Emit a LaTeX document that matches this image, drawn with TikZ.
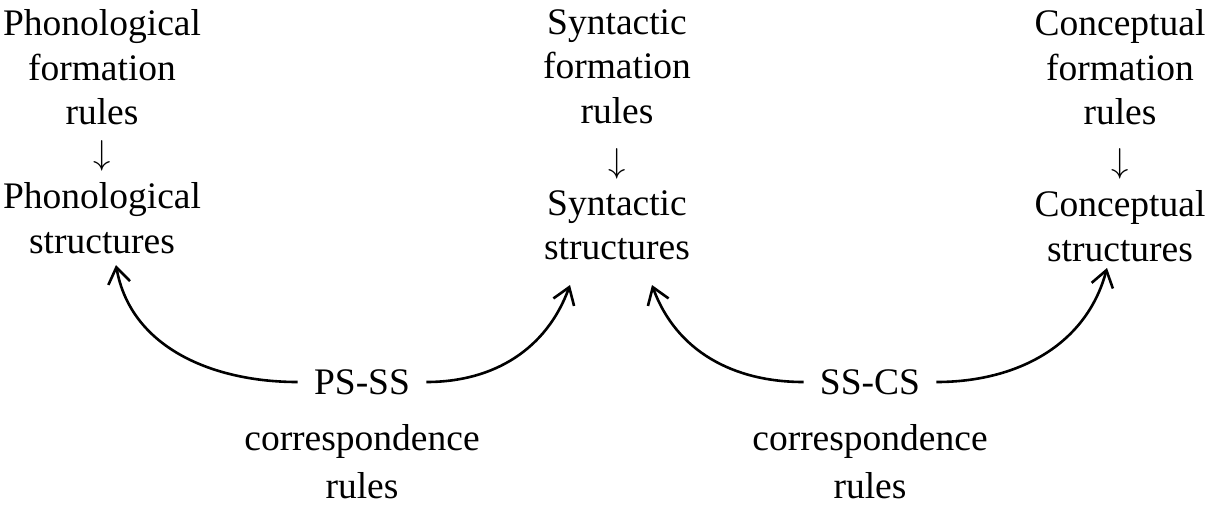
\documentclass[tikz,border=0pt]{standalone}
\usepackage{fontspec}
\setmainfont{Liberation Serif}
\usetikzlibrary{arrows.meta}
\tikzset{lingtext/.style={align=center,inner sep=0pt,font=\fontsize{18.75}{22.3}\selectfont}}
\tikzset{downsign/.style={inner sep=0pt,font=\fontsize{19}{19}\selectfont}}
\tikzset{corrarrow/.style={line width=1.3pt,-{Straight Barb[length=8pt,width=11pt,line width=1.3pt]}}}

\begin{document}
\begin{tikzpicture}[x=0.5pt,y=-0.5pt]
	\useasboundingbox (0,0) rectangle (1214,505);

	% formation rules and structures
	\node[lingtext,anchor=north] (phonrules) at (102,9) {Phonological\\formation\\rules};
	\node[downsign] (phondown) at (102,156) {$\downarrow$};
	\node[lingtext,anchor=north] (phonstr) at (102,182) {Phonological\\structures};

	\node[lingtext,anchor=north] (synrules) at (617,9) {Syntactic\\formation\\rules};
	\node[downsign] (syndown) at (617,164) {$\downarrow$};
	\node[lingtext,anchor=north] (synstr) at (617,190) {Syntactic\\structures};

	\node[lingtext,anchor=north] (concrules) at (1120,9) {Conceptual\\formation\\rules};
	\node[downsign] (concdown) at (1120,164) {$\downarrow$};
	\node[lingtext,anchor=north] (concstr) at (1120,190) {Conceptual\\structures};

	% correspondence rules
	\node[lingtext,inner xsep=8pt] (psss) at (362,382) {PS-SS};
	\node[lingtext,anchor=north,font=\fontsize{18.75}{24}\selectfont] (psssrules) at (362,424) {correspondence\\rules};

	\node[lingtext,inner xsep=8pt] (sscs) at (870,382) {SS-CS};
	\node[lingtext,anchor=north,font=\fontsize{18.75}{24}\selectfont] (sscsrules) at (870,424) {correspondence\\rules};

	\coordinate (phontip) at (116,265);
	\coordinate (syntipl) at (570,285);
	\coordinate (syntipr) at (652,285);
	\coordinate (conctip) at (1107,268);

	\draw[corrarrow] (psss.west) to[out=180,in=-80] (phontip);
	\draw[corrarrow] (psss.east) to[out=0,in=-110] (syntipl);
	\draw[corrarrow] (sscs.west) to[out=180,in=-70] (syntipr);
	\draw[corrarrow] (sscs.east) to[out=0,in=-105] (conctip);
\end{tikzpicture}
\end{document}
